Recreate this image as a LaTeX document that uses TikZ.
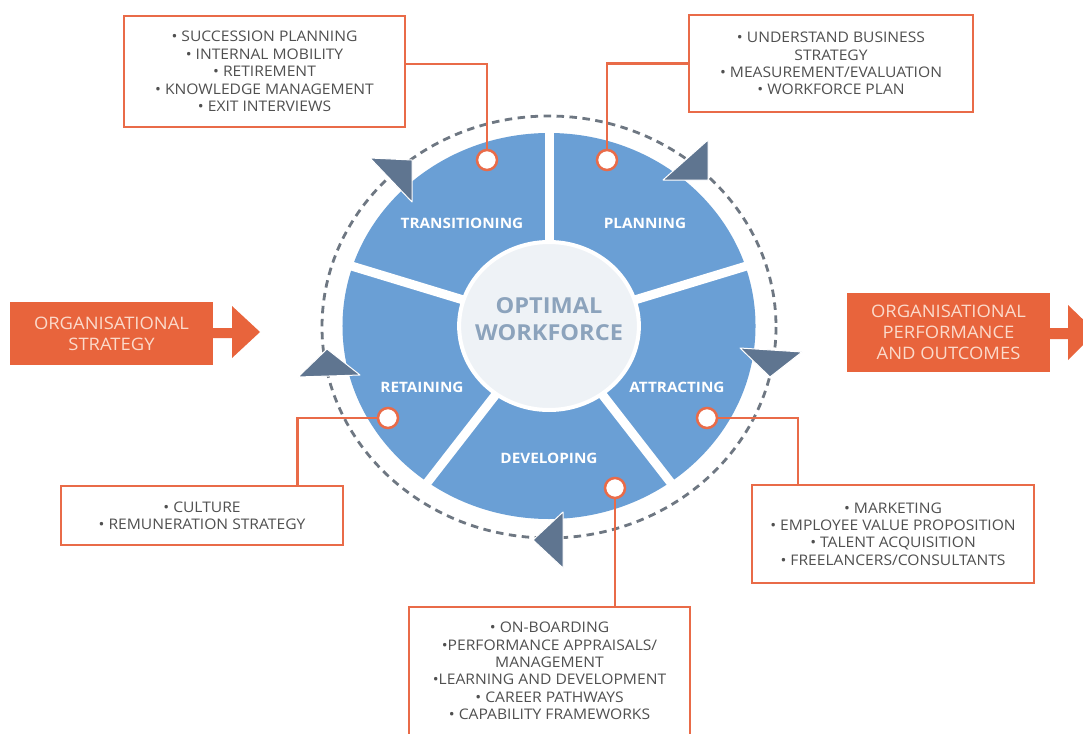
\documentclass[tikz,border=0pt]{standalone}
\usepackage{fontspec}
\setmainfont{Open Sans}[FakeStretch=1.07]
\definecolor{orng}{HTML}{E8643C}
\definecolor{boxline}{HTML}{E96B48}
\definecolor{piec}{HTML}{6A9FD5}
\definecolor{innerc}{HTML}{EEF2F6}
\definecolor{cwc}{HTML}{8CA3BC}
\definecolor{tric}{HTML}{5F7590}
\definecolor{dashc}{HTML}{6E7782}
\definecolor{txtc}{HTML}{505050}
\definecolor{peach}{HTML}{FBDACB}
\begin{document}
\begin{tikzpicture}[x=1pt,y=-1pt,
  tbox/.style={draw=boxline, line width=2.5pt, fill=white, text=txtc, align=center,
     font=\fontsize{14.6}{17.4}\selectfont, inner sep=0pt},
  dotm/.style={circle, draw=boxline, fill=white, line width=2.5pt, minimum size=20pt, inner sep=0pt},
  seglab/.style={text=white, font=\bfseries\fontsize{14.3}{16}\selectfont, inner sep=0pt},
  orect/.style={fill=orng, text=peach, align=center, font=\fontsize{17.2}{21}\selectfont, inner sep=0pt},
  conn/.style={draw=boxline, line width=2.5pt},
  trih/.style={fill=tric, draw=white, line width=1pt, line join=round}]
\useasboundingbox (0,0) rectangle (1083,733);
\clip (0,0) rectangle (1083,733);
\fill[white] (0,0) rectangle (1083,733);

% dashed ring
\begin{scope}[shift={(549,327)}]
  \draw[dashc, line width=2.8pt, dash pattern=on 7.5pt off 5.5pt] (0,0) ellipse [x radius=227, y radius=211];
\end{scope}

% pie
\begin{scope}[shift={(549,326)}, x=1.07pt, y=1pt]
  \fill[piec] (0,0) circle [radius=193];
  \foreach \a in {90,18,-54,-126,162} \draw[white, line width=9pt] (0,0) -- (\a:196);
  \fill[innerc, draw=white, line width=4pt] (0,0) circle [radius=84];
\end{scope}

% arrowheads on the ring
\filldraw[trih] (370,158) -- (412,160) -- (412,202) -- cycle;
\filldraw[trih] (708,140) -- (663,180) -- (708,180) -- cycle;
\filldraw[trih] (740,348) -- (802,352) -- (770,377) -- cycle;
\filldraw[trih] (563,512) -- (533,540) -- (563,568) -- cycle;
\filldraw[trih] (298,377) -- (327,349) -- (360,375) -- cycle;

% center text
\node[text=cwc, font=\bfseries\fontsize{22}{27}\selectfont, align=center, inner sep=0pt] (ow) at (549,319) {OPTIMAL\\WORKFORCE};

% segment labels
\node[seglab] (lt) at (462,223) {TRANSITIONING};
\node[seglab] (lp) at (645,223) {PLANNING};
\node[seglab] (lr) at (422,387) {RETAINING};
\node[seglab] (la) at (677,387) {ATTRACTING};
\node[seglab] (ld) at (549,458) {DEVELOPING};

% boxes
\node[tbox, minimum width=281pt, minimum height=111pt] (tl) at (264.5,71.5)
  {• SUCCESSION PLANNING\\• INTERNAL MOBILITY\\• RETIREMENT\\• KNOWLEDGE MANAGEMENT\\• EXIT INTERVIEWS};
\node[tbox, minimum width=284pt, minimum height=97pt] (tr) at (831,63.5)
  {• UNDERSTAND BUSINESS\\STRATEGY\\• MEASUREMENT/EVALUATION\\• WORKFORCE PLAN};
\node[tbox, minimum width=282pt, minimum height=59pt] (lb) at (202,515.5)
  {• CULTURE\\• REMUNERATION STRATEGY};
\node[tbox, minimum width=282pt, minimum height=98pt] (rb) at (893,534)
  {• MARKETING\\• EMPLOYEE VALUE PROPOSITION\\• TALENT ACQUISITION\\• FREELANCERS/CONSULTANTS};
\node[tbox, minimum width=281pt, minimum height=128pt] (bb) at (549.5,671)
  {• ON-BOARDING\\•PERFORMANCE APPRAISALS/\\MANAGEMENT\\•LEARNING AND DEVELOPMENT\\• CAREER PATHWAYS\\• CAPABILITY FRAMEWORKS};

% markers
\node[dotm] (mT) at (487,160) {};
\node[dotm] (mP) at (607,160) {};
\node[dotm] (mR) at (388,418) {};
\node[dotm] (mA) at (707,418) {};
\node[dotm] (mD) at (615,488) {};

% connectors
\draw[conn] (mT.north) |- (tl.east |- 0,64);
\draw[conn] (mP.north) |- (tr.west);
\draw[conn] (mR.west) -| ([xshift=-47pt]lb.north east);
\draw[conn] (mA.east) -| ([xshift=-95pt]rb.north);
\draw[conn] (mD.south) -- (mD |- bb.north);

% orange arrows
\node[orect, minimum width=203pt, minimum height=63pt] (ol) at (111.5,333.5) {ORGANISATIONAL\\STRATEGY};
\fill[orng] (ol.east |- 0,328) -- (232,328) -- (232,306) -- (260,332) -- (232,358) -- (232,338) -- (ol.east |- 0,338) -- cycle;
\node[orect, minimum width=203pt, minimum height=79pt] (orr) at (948.5,332.5) {ORGANISATIONAL\\PERFORMANCE\\AND OUTCOMES};
\fill[orng] (orr.east |- 0,328) -- (1068,328) -- (1068,305) -- (1096,332) -- (1068,360) -- (1068,339) -- (orr.east |- 0,339) -- cycle;
\end{tikzpicture}
\end{document}
